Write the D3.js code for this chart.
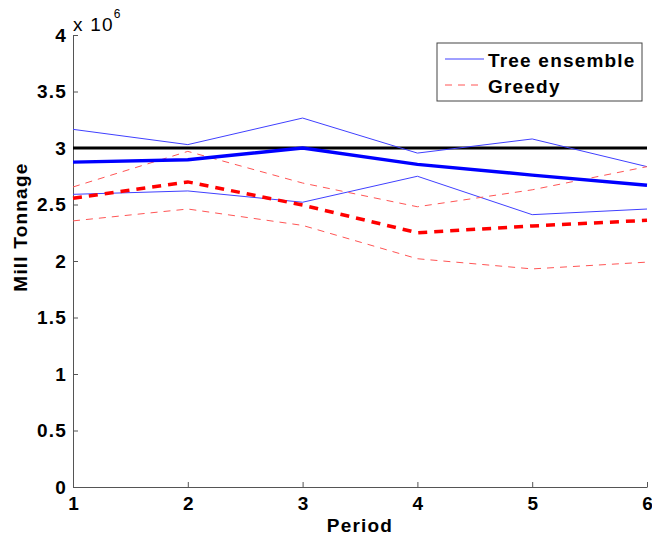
<!DOCTYPE html>
<html>
<head>
<meta charset="utf-8">
<script src="https://cdn.jsdelivr.net/npm/d3@7"></script>
<style>
  body { margin: 0; background: #fff; }
  text { font-family: "Liberation Sans", Arial, Helvetica, sans-serif; font-weight: bold; letter-spacing: 1.2px; }
</style>
</head>
<body>
<svg id="vis" width="652" height="538"></svg>
<script>
// periods on x axis
const periods = [1, 2, 3, 4, 5, 6]
const yTicks = [0, 0.5, 1, 1.5, 2, 2.5, 3, 3.5, 4]

// values in units of 10^6
const target = [3, 3, 3, 3, 3, 3]
const treeMean = [2.875, 2.895, 3.0, 2.855, 2.76, 2.67]
const treeUpper = [3.165, 3.03, 3.265, 2.955, 3.08, 2.835]
const treeLower = [2.59, 2.62, 2.52, 2.75, 2.41, 2.46]
const greedyMean = [2.555, 2.70, 2.495, 2.25, 2.31, 2.36]
const greedyUpper = [2.655, 2.97, 2.69, 2.48, 2.63, 2.835]
const greedyLower = [2.355, 2.46, 2.315, 2.02, 1.93, 1.99]

const legendLabels = ['Tree ensemble', 'Greedy']

const MARGINS = { top: 35, right: 5, bottom: 51, left: 73 }
const WIDTH = 652, HEIGHT = 538
const FS = 19

const svg = d3.select('#vis')

const xScale = d3.scaleLinear().domain([1, 6]).range([MARGINS.left, WIDTH - MARGINS.right])
const yScale = d3.scaleLinear().domain([0, 4]).range([HEIGHT - MARGINS.bottom, MARGINS.top])

const xAxis = d3.axisBottom(xScale).tickValues(periods).tickFormat(d3.format('d')).tickSizeInner(-5).tickSizeOuter(0).tickPadding(10)
const yAxis = d3.axisLeft(yScale).tickValues(yTicks).tickFormat(d => d).tickSizeInner(-5).tickSizeOuter(0).tickPadding(6)

const gx = svg.append('g')
  .attr('transform', 'translate(0,' + yScale(0) + ')')
  .call(xAxis)
gx.selectAll('text').attr('font-size', FS).attr('fill', '#000').attr('dx', 0.6)

const gy = svg.append('g')
  .attr('transform', 'translate(' + xScale(1) + ',0)')
  .call(yAxis)
gy.selectAll('text').attr('font-size', FS).attr('fill', '#000')

svg.selectAll('.domain, .tick line').attr('stroke', '#555').attr('stroke-width', 1)

const lineGen = d3.line()
  .x((d, i) => xScale(periods[i]))
  .y(d => yScale(d))

const series = [
  { data: target, color: '#000', width: 3, dash: null },
  { data: treeUpper, color: '#4040ff', width: 1, dash: null },
  { data: treeLower, color: '#4040ff', width: 1, dash: null },
  { data: greedyUpper, color: '#ff5555', width: 1, dash: '7,6' },
  { data: greedyLower, color: '#ff5555', width: 1, dash: '7,6' },
  { data: treeMean, color: '#0000ff', width: 3.5, dash: null },
  { data: greedyMean, color: '#ff0000', width: 3.5, dash: '9,7' }
]

series.forEach(s => {
  svg.append('path')
    .attr('d', lineGen(s.data))
    .attr('fill', 'none')
    .attr('stroke', s.color)
    .attr('stroke-width', s.width)
    .attr('stroke-dasharray', s.dash)
})

// exponent label
const ex = svg.append('text').attr('x', 73).attr('y', 31).attr('font-size', FS).attr('fill', '#000')
ex.append('tspan').attr('style', 'font-weight:normal').text('x 10')
ex.append('tspan').attr('dy', -13).attr('font-size', 12).attr('style', 'letter-spacing:0; font-weight:normal').text('6')

// axis titles
svg.append('text')
  .attr('x', 360)
  .attr('y', 532)
  .attr('text-anchor', 'middle')
  .attr('font-size', FS)
  .text('Period')

svg.append('text')
  .attr('transform', 'translate(27,' + (yScale(2.3)) + ') rotate(-90)')
  .attr('text-anchor', 'middle')
  .attr('font-size', FS)
  .text('Mill Tonnage')

// legend
const legend = svg.append('g')
legend.append('rect')
  .attr('x', 437).attr('y', 43).attr('width', 205).attr('height', 58)
  .attr('fill', '#fff').attr('stroke', '#444').attr('stroke-width', 1)

const legendStyles = [
  { color: '#4040ff', dash: null },
  { color: '#ff5555', dash: '7,6' }
]
legendLabels.forEach((lab, i) => {
  const y = 59 + i * 26
  legend.append('line')
    .attr('x1', 445).attr('x2', 484).attr('y1', y).attr('y2', y)
    .attr('stroke', legendStyles[i].color).attr('stroke-width', 1)
    .attr('stroke-dasharray', legendStyles[i].dash)
  legend.append('text')
    .attr('x', 488).attr('y', y + 7.5)
    .attr('font-size', FS)
    .text(lab)
})
</script>
</body>
</html>
